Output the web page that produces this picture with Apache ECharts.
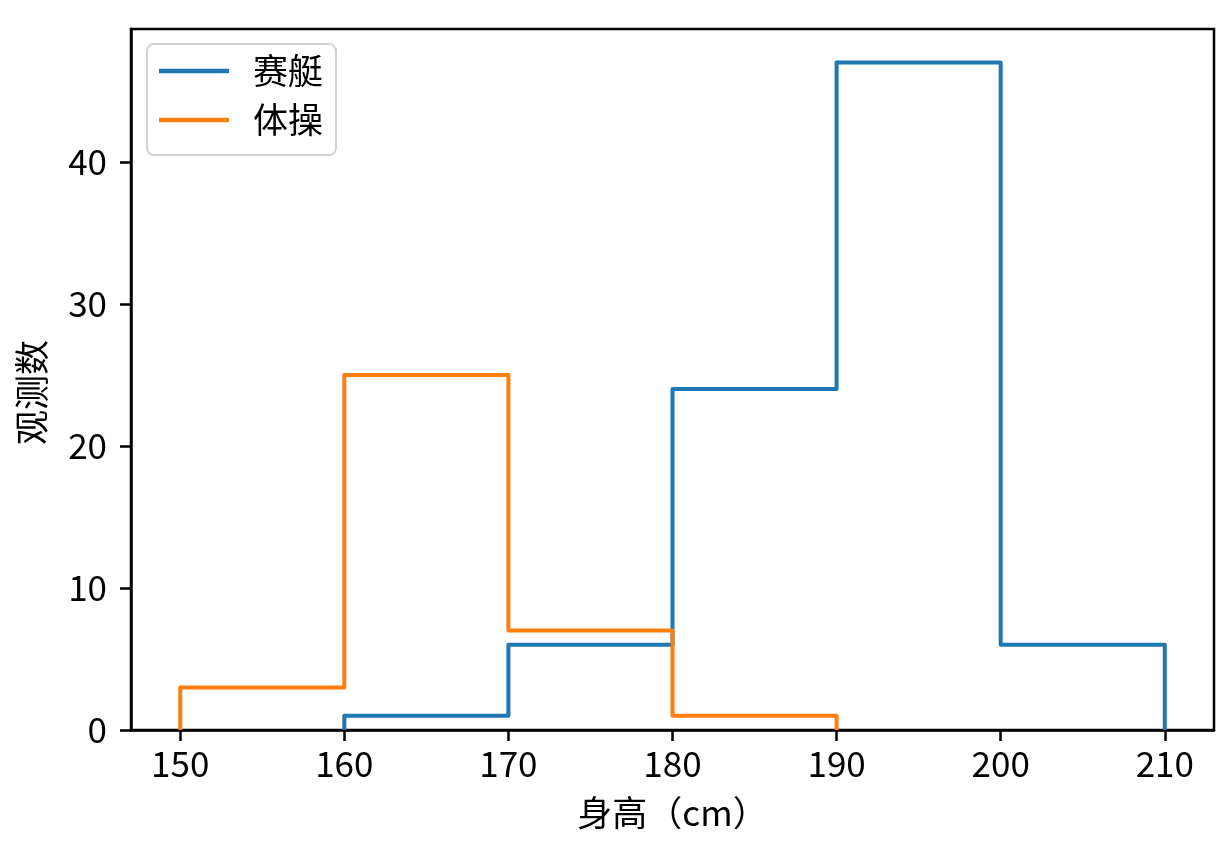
<!DOCTYPE html>
<html>
<head>
<meta charset="utf-8">
<script src="https://cdn.jsdelivr.net/npm/echarts@6/dist/echarts.min.js"></script>
<style>html,body{margin:0;padding:0;background:#fff;}#c{width:1231px;height:848px;}</style>
</head>
<body>
<div id="c"></div>
<script>
const seriesNames = ['赛艇', '体操'];
const rowingEdges = [160, 170, 180, 190, 200, 210];
const rowingCounts = [1, 6, 24, 47, 6];
const gymEdges = [150, 160, 170, 180, 190];
const gymCounts = [3, 25, 7, 1];
const xTicks = [150, 160, 170, 180, 190, 200, 210];
const yTicks = [0, 10, 20, 30, 40];
const xLabel = '身高（cm）';
const yLabel = '观测数';

function stepPoints(edges, counts) {
  const pts = [[edges[0], 0]];
  for (let i = 0; i < counts.length; i++) {
    pts.push([edges[i], counts[i]]);
    pts.push([edges[i + 1], counts[i]]);
  }
  pts.push([edges[edges.length - 1], 0]);
  return pts;
}

const FONT = '"Noto Sans CJK SC", "Noto Sans", sans-serif';
const FS = 35;
const chart = echarts.init(document.getElementById('c'), null, {renderer: 'canvas'});
chart.setOption({
  animation: false,
  textStyle: {fontFamily: FONT},
  grid: {left: 131, right: 17, top: 29, bottom: 118, show: true, borderColor: '#000', borderWidth: 2.5, backgroundColor: 'transparent'},
  legend: {
    orient: 'vertical', left: 147, top: 44,
    data: seriesNames,
    icon: 'rect', itemWidth: 70, itemHeight: 4.5, itemGap: 9,
    padding: [7, 13, 15, 12],
    backgroundColor: '#fff', borderColor: '#d3d3d3', borderWidth: 2, borderRadius: 7,
    textStyle: {fontFamily: FONT, fontSize: FS, color: '#000', lineHeight: 40, padding: [0, 0, 0, 19]}
  },
  xAxis: {
    type: 'value', min: 147, max: 213,
    name: xLabel, nameLocation: 'middle', nameGap: 65,
    nameTextStyle: {fontFamily: FONT, fontSize: FS, color: '#000'},
    axisLine: {show: true, lineStyle: {color: '#000', width: 2.5}},
    axisTick: {show: true, length: 11, customValues: xTicks, lineStyle: {color: '#000', width: 2.5}},
    axisLabel: {customValues: xTicks, fontFamily: FONT, fontSize: FS, color: '#000', margin: 16},
    splitLine: {show: false}
  },
  yAxis: {
    type: 'value', min: 0, max: 49.35,
    name: yLabel, nameLocation: 'middle', nameGap: 82,
    nameTextStyle: {fontFamily: FONT, fontSize: FS, color: '#000', padding: [0, 26, 0, 0]},
    axisLine: {show: true, lineStyle: {color: '#000', width: 2.5}},
    axisTick: {show: true, length: 11, customValues: yTicks, lineStyle: {color: '#000', width: 2.5}},
    axisLabel: {customValues: yTicks, fontFamily: FONT, fontSize: FS, color: '#000', margin: 24},
    splitLine: {show: false}
  },
  series: [
    {name: seriesNames[0], type: 'line', data: stepPoints(rowingEdges, rowingCounts), symbol: 'none', color: '#1f77b4',
     lineStyle: {width: 4, color: '#1f77b4', join: 'round'}},
    {name: seriesNames[1], type: 'line', data: stepPoints(gymEdges, gymCounts), symbol: 'none', color: '#ff7f0e',
     lineStyle: {width: 4, color: '#ff7f0e', join: 'round'}}
  ]
});
</script>
</body>
</html>
